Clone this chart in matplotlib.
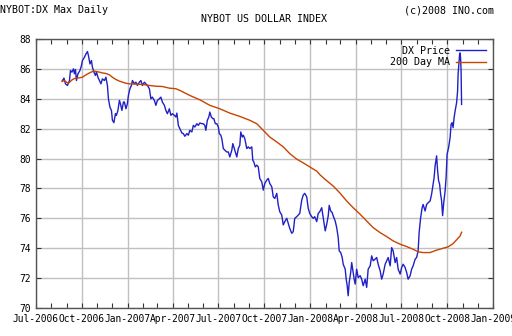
import matplotlib
matplotlib.use("Agg")
import matplotlib.pyplot as plt
import matplotlib.dates as mdates
import numpy as np
import pandas as pd

# days counted from 2006-07-01
price_day = [53, 56, 59, 63, 67, 69, 72, 75, 77, 79, 81, 84, 88, 91, 93, 97, 100, 103, 105, 108,
             111, 113, 116, 119, 121, 124, 127, 130, 133, 137, 140, 143, 145, 148, 151, 153, 156, 159, 161, 164,
             167, 169, 172, 175, 177, 180, 183, 185, 188, 191, 193, 197, 200, 203, 207, 210, 213, 217, 220, 223,
             227, 230, 233, 237, 240, 243, 247, 250, 253, 257, 260, 263, 267, 270, 273, 277, 280,
             282, 285, 288, 292, 295, 298, 302, 305, 308, 312, 315, 318, 322, 325, 328, 332, 335, 338, 340, 343,
             346, 348, 351, 354, 356, 359, 362, 365, 367, 370, 372, 375, 378, 382, 385, 388, 392, 394, 396, 399,
             402, 405, 408, 410, 413, 415, 418, 422, 425, 428, 432, 434, 436, 439, 442, 445, 448, 452, 455, 458,
             462, 465, 468, 472, 475, 478, 482, 485, 488, 492, 495, 498, 502, 505, 508, 512, 515, 518, 522, 525,
             528, 532, 535, 538, 542, 545, 548, 552, 555, 558, 562, 565, 568,
             572, 575, 579, 582, 585, 587, 590, 593, 595, 599, 602, 605, 607, 610, 613, 615, 619, 621, 623, 625,
             627, 630, 632, 634, 637, 639, 642, 645, 649, 652, 655, 659, 662, 665, 669, 672, 675, 679, 682, 685,
             689, 692, 695, 699, 702, 705, 709, 712, 715, 719, 722, 725, 729, 732, 735, 739, 742, 745, 749, 752,
             755, 759, 762, 765, 767, 770, 773, 775, 779, 782, 785, 789,
             792, 795, 797, 799, 801, 802, 804, 806, 808, 810, 812, 814, 816, 819, 821, 823, 826, 829, 831, 833,
             835, 837, 839, 842, 844, 845, 847, 848, 849, 850, 851, 852]
price_val = [85.22, 85.38, 85.0, 84.89, 85.22, 85.89, 85.78, 86.0, 85.67, 85.96, 85.22, 85.67, 85.89, 86.22, 86.56, 86.78, 87.0, 87.16, 86.89, 86.33,
             86.56, 86.11, 85.78, 85.56, 85.78, 85.44, 85.22, 85.0, 85.33, 85.22, 85.44, 84.89, 84.0, 83.44, 83.22, 82.56, 82.4, 83.0, 82.89, 83.22,
             83.89, 83.67, 83.22, 83.78, 83.78, 83.33, 83.67, 84.22, 84.67, 84.89, 85.22, 85.0, 85.11, 84.89, 85.11, 85.22, 84.89, 85.11, 85.0, 84.89,
             84.67, 84.0, 84.11, 83.89, 83.56, 83.89, 84.0, 84.11, 83.78, 83.56, 83.22, 83.0, 83.33, 82.89, 83.0, 82.89, 82.78,
             83.04, 82.22, 82.0, 81.71, 81.67, 81.49, 81.67, 81.56, 81.89, 81.78, 82.22, 82.11, 82.33, 82.22, 82.38, 82.33, 82.33, 82.22, 81.89, 82.56,
             82.78, 83.11, 82.78, 82.67, 82.67, 82.33, 82.33, 82.11, 81.67, 81.56, 81.33, 80.67, 80.56, 80.44, 80.44, 80.11, 80.56, 81.0, 80.78, 80.44,
             80.11, 80.67, 80.89, 81.78, 81.44, 81.56, 81.33, 80.67, 80.78, 80.67, 80.78, 79.89, 79.78, 79.44, 79.56, 79.44, 78.67, 78.44, 77.89, 78.33,
             78.56, 78.67, 78.33, 78.11, 77.44, 77.33, 77.67, 76.89, 76.44, 76.22, 75.56, 75.78, 76.0, 75.67, 75.33, 75.0, 75.11, 76.0, 76.11, 76.22,
             76.33, 77.22, 77.56, 77.67, 77.44, 76.67, 76.33, 76.11, 76.0, 76.11, 75.78, 76.33, 76.44,
             76.71, 76.04, 75.16, 75.6, 76.16, 76.87, 76.49, 76.38, 76.16, 75.82, 75.38, 74.71, 73.82, 73.71, 73.38, 72.93, 72.6, 71.93, 71.49, 70.82,
             71.71, 72.38, 73.04, 72.6, 71.93, 71.6, 72.6, 72.04, 72.16, 71.93, 71.49, 71.93, 71.38, 72.6, 72.82, 73.49, 73.16, 73.27, 73.38, 72.93,
             72.49, 71.93, 72.27, 72.93, 73.16, 73.38, 72.82, 74.04, 73.82, 73.04, 73.38, 72.6, 72.27, 72.71, 72.93, 72.71, 72.38, 71.93, 72.16, 72.6,
             72.82, 73.27, 73.38, 73.82, 75.04, 76.04, 76.71, 76.93, 76.49, 76.93, 77.04, 77.16,
             77.62, 78.29, 78.73, 79.51, 79.96, 80.18, 79.18, 78.51, 78.29, 77.62, 77.18, 76.18, 76.96, 77.84, 78.73, 80.29, 80.73, 81.4, 82.29, 82.4,
             82.07, 82.73, 83.18, 83.73, 84.51, 85.62, 86.51, 86.96, 87.07, 86.73, 85.84, 83.62]

ma_day = [52, 57, 61, 65, 69, 73, 79, 87, 93, 100, 107, 113, 119, 127, 133, 140, 147, 153, 160, 167,
          173, 180, 187, 200, 213, 227, 240, 253, 267, 280, 288, 308, 328, 348, 368, 388, 408, 428, 442, 457,
          468, 482, 495, 508, 522, 535, 548, 562, 568, 579, 595, 608, 622, 635, 649, 662, 675, 689, 702, 715,
          729, 742, 755, 765, 775, 789, 802, 815, 825, 835, 843, 849, 852]
ma_val = [85.16, 85.22, 85.11, 85.04, 85.16, 85.29, 85.38, 85.4, 85.44, 85.6, 85.73, 85.82, 85.84, 85.78, 85.73, 85.69, 85.6, 85.44, 85.29, 85.18,
          85.11, 85.04, 85.0, 84.98, 84.96, 84.89, 84.84, 84.82, 84.71, 84.67, 84.56, 84.22, 83.93, 83.56, 83.33, 83.04, 82.82, 82.56, 82.33, 81.82,
          81.44, 81.11, 80.78, 80.33, 79.96, 79.71, 79.44, 79.16, 78.93, 78.6, 78.16, 77.71, 77.16, 76.71, 76.27, 75.82, 75.38, 75.04, 74.78, 74.49,
          74.27, 74.11, 73.93, 73.76, 73.71, 73.71, 73.87, 74.0, 74.09, 74.31, 74.6, 74.82, 75.07]

start = pd.Timestamp("2006-07-01")
price_dates = start + pd.to_timedelta(price_day, unit="D")
ma_dates = start + pd.to_timedelta(ma_day, unit="D")

mono = "DejaVu Sans Mono"
fig = plt.figure(figsize=(5.12, 3.36), dpi=100)
ax = fig.add_axes([0.0703, 0.0833, 0.8927, 0.8007])

ax.plot(price_dates, price_val, color="#2020c8", lw=1.0, label="DX Price")
ax.plot(ma_dates, ma_val, color="#c84400", lw=1.0, label="200 Day MA")

ax.set_xlim(pd.Timestamp("2006-07-01"), pd.Timestamp("2009-01-01"))
ax.set_ylim(70, 88)
ax.set_yticks(np.arange(70, 89, 2))
ax.xaxis.set_major_locator(mdates.MonthLocator(bymonth=[1, 4, 7, 10]))
ax.xaxis.set_minor_locator(mdates.MonthLocator())
ax.xaxis.set_major_formatter(mdates.DateFormatter("%b-%Y"))

ax.grid(True, which="major", color="#c0c0c0", lw=1.0)
ax.set_axisbelow(True)
ax.tick_params(which="both", direction="in", top=True, right=True, color="#333333",
               labelsize=6.9, length=3.5, width=0.8, pad=4)
ax.tick_params(which="major", length=3.5)
for lab in ax.get_xticklabels() + ax.get_yticklabels():
    lab.set_family(mono)
for s in ax.spines.values():
    s.set_color("#555555")
    s.set_linewidth(1.0)

leg = ax.legend(loc="upper right", frameon=False, prop={"family": mono, "size": 7.2},
                markerfirst=False, handlelength=3.0, handletextpad=0.6, labelspacing=0.15,
                borderaxespad=0.3)

fig.text(0.0, 0.97, "NYBOT:DX Max Daily", family=mono, fontsize=7.2, va="center", ha="left")
fig.text(0.965, 0.97, "(c)2008 INO.com", family=mono, fontsize=7.2, va="center", ha="right")
fig.text(0.515, 0.942, "NYBOT US DOLLAR INDEX", family=mono, fontsize=7.2, va="center", ha="center")

fig.savefig("out.png", dpi=100, facecolor="white")
